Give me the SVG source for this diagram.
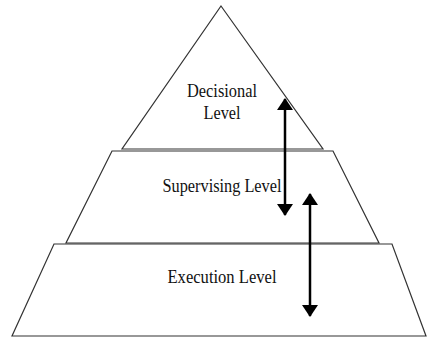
<svg xmlns="http://www.w3.org/2000/svg" width="427" height="338" viewBox="0 0 427 338">
<style>
.lvl{fill:#fff;stroke:#333;stroke-width:1.2;stroke-linejoin:miter}
.t{font-family:"Liberation Serif","Times New Roman",serif;font-size:18px;fill:#111;text-anchor:middle}
.arr{stroke:#000;stroke-width:2.5;fill:none}
</style>
<defs>
<marker id="ah" viewBox="0 0 12 16" refX="11" refY="8" markerWidth="12" markerHeight="16" markerUnits="userSpaceOnUse" orient="auto-start-reverse">
<path d="M0,0 L12,8 L0,16 Z" fill="#000"/>
</marker>
</defs>
<rect width="427" height="338" fill="#fff"/>
<g id="execution">
<polygon class="lvl" points="54,244 392,244 426,336 12,336"/>
<text class="t" x="222" y="283" textLength="109" lengthAdjust="spacingAndGlyphs">Execution Level</text>
</g>
<g id="supervising">
<polygon class="lvl" points="112,151 333,151 379,243 66,243"/>
<text class="t" x="222" y="192" textLength="119" lengthAdjust="spacingAndGlyphs">Supervising Level</text>
</g>
<g id="decisional">
<polygon class="lvl" points="221,6 323,149 122,149"/>
<text class="t" x="222" y="97" textLength="70" lengthAdjust="spacingAndGlyphs">Decisional</text>
<text class="t" x="222" y="119" textLength="37" lengthAdjust="spacingAndGlyphs">Level</text>
</g>
<g id="connectors">
<line class="arr" x1="285" y1="99" x2="285" y2="215" marker-start="url(#ah)" marker-end="url(#ah)"/>
<line class="arr" x1="310" y1="194" x2="310" y2="316" marker-start="url(#ah)" marker-end="url(#ah)"/>
</g>
</svg>
